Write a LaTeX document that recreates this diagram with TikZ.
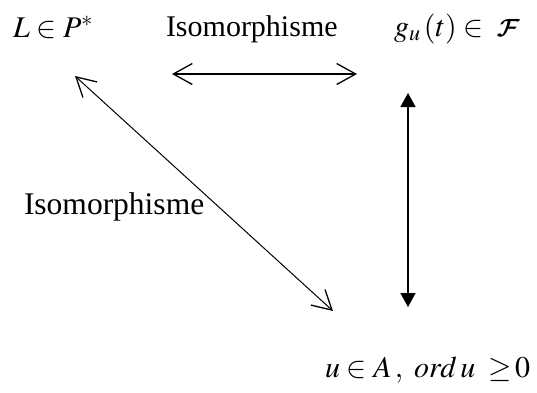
\documentclass[tikz,border=0pt]{standalone}
\usepackage{mathptmx}
\DeclareMathAlphabet{\mathbcal}{OMS}{cmsy}{b}{n}
\usepackage{fontspec}
\setmainfont{Liberation Serif}
\usetikzlibrary{arrows.meta}
\tikzset{
  lbl/.style={anchor=base west, inner sep=0pt, outer sep=0pt, font=\fontsize{30}{36}\selectfont},
  openarr/.style={line width=#1, {Straight Barb[length=19pt,width=21pt,line width=1.3pt]}-{Straight Barb[length=19pt,width=21pt,line width=1.3pt]}},
  filledarr/.style={line width=1.5pt, {Triangle[length=14pt,width=15pt]}-{Triangle[length=14pt,width=15pt]}}
}
\begin{document}
\begin{tikzpicture}[x=1pt,y=-1pt]
\useasboundingbox[fill=white] (0,0) rectangle (537,392);
\node[lbl] (L) at (13,37) {$L\in P^{*}$};
\node[lbl] (iso1) at (166,36) {Isomorphisme};
\node[lbl] (g) at (394,36) {$g_{u}\,(t)\in\;\mathbcal{F}$};
\node[lbl, font=\fontsize{31.5}{36}\selectfont] (iso2) at (24,214) {Isomorphisme};
\node[lbl] (u) at (325,377) {$u\in A\,,\ ord\,u\;\;{\geq}\,0$};
\coordinate (hL) at (172,74);
\coordinate (hR) at (357,74);
\coordinate (dU) at (75,76);
\coordinate (dD) at (333,311);
\coordinate (vU) at (408,93);
\coordinate (vD) at (408,307);
\draw[openarr=1.6pt] (hL) -- (hR);
\draw[openarr=1pt] (dU) -- (dD);
\draw[filledarr] (vU) -- (vD);
\end{tikzpicture}
\end{document}
